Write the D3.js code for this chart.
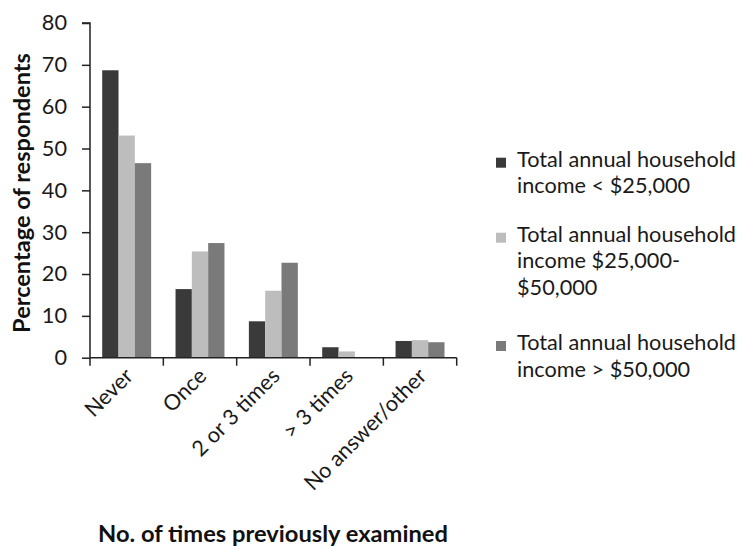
<!DOCTYPE html>
<html><head><meta charset="utf-8">
<script src="https://cdn.jsdelivr.net/npm/d3@7"></script>
<style>body{margin:0;background:#fff}svg{display:block}</style>
</head><body>
<svg id="c" width="748" height="546"></svg>
<script>
const categories = ["Never", "Once", "2 or 3 times", "> 3 times", "No answer/other"];
const seriesNames = [
  ["Total annual household", "income < $25,000"],
  ["Total annual household", "income $25,000-", "$50,000"],
  ["Total annual household", "income > $50,000"]
];
const incomeLow = [68.7, 16.4, 8.7, 2.5, 4.0];
const incomeMid = [53.1, 25.4, 16.0, 1.5, 4.2];
const incomeHigh = [46.5, 27.4, 22.7, 0, 3.7];
const yTicks = [0, 10, 20, 30, 40, 50, 60, 70, 80];
const colors = ["#3a3a3a", "#bdbdbd", "#7a7a7a"];
const series = [incomeLow, incomeMid, incomeHigh];

const font = "Lato, 'Open Sans', sans-serif";
const fs = 21.7;
const svg = d3.select("#c");
const pL = 90, pR = 456.7, pT = 23, pB = 357.7;

const y = d3.scaleLinear().domain([0, 80]).range([pB, pT]);
const x0 = d3.scaleBand().domain(categories).range([pL, pR]).padding(0);
const x1 = d3.scaleBand().domain([0, 1, 2]).range([12.2, x0.bandwidth() - 12.2]).padding(0);

function fitWidth(sel, target) {
  const w = sel.node().getComputedTextLength();
  const cur = +sel.attr("font-size");
  if (w > 0) sel.attr("font-size", cur * target / w);
}

// bars
const g = svg.append("g");
categories.forEach((c, i) => {
  series.forEach((s, j) => {
    g.append("rect")
      .attr("x", x0(c) + x1(j))
      .attr("width", x1.bandwidth())
      .attr("y", y(s[i]))
      .attr("height", y(0) - y(s[i]))
      .attr("fill", colors[j]);
  });
});

// y axis
const yAxis = d3.axisLeft(y).tickValues(yTicks).tickSize(8).tickPadding(15);
const ya = svg.append("g").attr("transform", `translate(${pL},0)`).call(yAxis);
ya.selectAll("text").attr("font-family", font).attr("font-size", fs).attr("fill", "#1a1a1a");
ya.selectAll("line,path").attr("stroke", "#222").attr("stroke-width", 1.5);
ya.select(".domain").attr("d", `M-8,${pT}H0V${pB}`);

// x axis
const xAxis = d3.axisBottom(x0).tickSize(0).tickFormat("");
const xa = svg.append("g").attr("transform", `translate(0,${pB})`).call(xAxis);
xa.select(".domain").attr("d", `M${pL},0H${pR}`).attr("stroke", "#222").attr("stroke-width", 1.5);
const tickPos = categories.map(c => x0(c)).concat([pR]);
xa.selectAll(".sep").data(tickPos).enter().append("line")
  .attr("x1", d => d).attr("x2", d => d).attr("y1", 0).attr("y2", 8)
  .attr("stroke", "#222").attr("stroke-width", 1.5);

// x tick labels rotated
svg.append("g").selectAll("text").data(categories).enter().append("text")
  .attr("transform", d => `translate(${x0(d) + x0.bandwidth() / 2 - 3},${pB + 9}) rotate(-45)`)
  .attr("text-anchor", "end")
  .attr("dy", "0.7em")
  .attr("font-family", font).attr("font-size", fs).attr("fill", "#1a1a1a")
  .text(d => d);

// axis titles
const yt = svg.append("text")
  .attr("transform", `translate(30,193) rotate(-90)`)
  .attr("text-anchor", "middle")
  .attr("font-family", font).attr("font-size", 21).attr("font-weight", "bold").attr("fill", "#111")
  .text("Percentage of respondents");
fitWidth(yt, 280);
const xt = svg.append("text")
  .attr("x", 273).attr("y", 542)
  .attr("text-anchor", "middle")
  .attr("font-family", font).attr("font-size", 21).attr("font-weight", "bold").attr("fill", "#111")
  .text("No. of times previously examined");
fitWidth(xt, 350);

// legend
const legendY = [166.7, 241.7, 350];
const lg = svg.append("g");
seriesNames.forEach((lines, j) => {
  lg.append("rect").attr("x", 496).attr("y", legendY[j] - 9).attr("width", 10).attr("height", 10).attr("fill", colors[j]);
  lines.forEach((t, k) => {
    lg.append("text").attr("x", 517).attr("y", legendY[j] + k * 26.5)
      .attr("font-family", font).attr("font-size", fs).attr("fill", "#1a1a1a").text(t);
  });
});
</script>
</body></html>
